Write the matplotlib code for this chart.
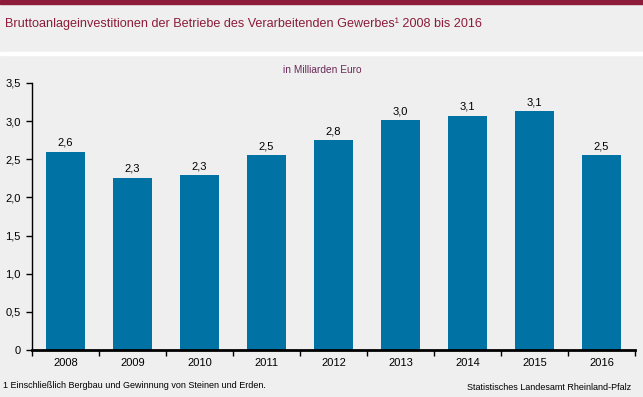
import numpy as np
import matplotlib
matplotlib.use('Agg')
import matplotlib.pyplot as plt
from matplotlib.patches import Rectangle

plt.rcParams['font.family'] = ['Liberation Sans', 'DejaVu Sans']

# data
years = ['2008', '2009', '2010', '2011', '2012', '2013', '2014', '2015', '2016']
values = [2.60, 2.26, 2.29, 2.55, 2.75, 3.01, 3.07, 3.13, 2.55]
yticks = [0, 0.5, 1.0, 1.5, 2.0, 2.5, 3.0, 3.5]

W, H = 643, 397
bg = '#eeefee'
maroon = '#8c1c3a'
bar_col = '#0072a3'

fig = plt.figure(figsize=(W / 100, H / 100), dpi=100, facecolor=bg)

# header stripes
fig.patches.append(Rectangle((0, 1 - 4 / H), 1, 4 / H, transform=fig.transFigure,
                             color=maroon, zorder=0))
fig.patches.append(Rectangle((0, 1 - 55 / H), 1, 3 / H, transform=fig.transFigure,
                             color='white', zorder=0))

fig.text(5 / W, 1 - 24 / H, 'Bruttoanlageinvestitionen der Betriebe des Verarbeitenden Gewerbes\u00b9 2008 bis 2016',
         ha='left', va='center', fontsize=9.1, color=maroon)
fig.text(322 / W, 1 - 70 / H, 'in Milliarden Euro', ha='center', va='center',
         fontsize=7.3, color='#6b2a5a')

ax = fig.add_axes([32 / W, 47 / H, 603 / W, 267 / H])
ax.set_facecolor(bg)
x = np.arange(len(years))
ax.bar(x, values, width=0.58, color=bar_col, zorder=2)

for xi, v in zip(x, values):
    ax.annotate(f'{v:.1f}'.replace('.', ','), (xi, v), xytext=(0, 3),
                textcoords='offset points', ha='center', va='bottom', fontsize=8)

ax.set_xlim(-0.5, len(years) - 0.5)
ax.set_ylim(0, 3.5)
ax.set_yticks(yticks)
ax.set_yticklabels(['0'] + [f'{t:.1f}'.replace('.', ',') for t in yticks[1:]])
ax.set_xticks(x)
ax.set_xticklabels(years)
ax.set_xticks(np.arange(-0.5, len(years)), minor=True)
ax.tick_params(axis='x', which='major', length=0, pad=6, labelsize=8)
ax.tick_params(axis='x', which='minor', length=4, width=1, direction='out')
ax.tick_params(axis='y', length=4, width=1, direction='out', labelsize=8, pad=4)

for s in ['top', 'right']:
    ax.spines[s].set_visible(False)
ax.spines['left'].set_linewidth(1)
ax.spines['bottom'].set_linewidth(2)

fig.text(3 / W, 1 - 386 / H, '1 Einschließlich Bergbau und Gewinnung von Steinen und Erden.',
         ha='left', va='center', fontsize=6.5)
fig.text(631 / W, 1 - 387 / H, 'Statistisches Landesamt Rheinland-Pfalz',
         ha='right', va='center', fontsize=6.5)

fig.savefig('out.png', dpi=100, facecolor=bg)
